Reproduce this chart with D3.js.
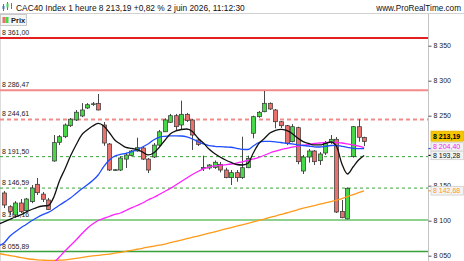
<!DOCTYPE html>
<html>
<head>
<meta charset="utf-8">
<script src="https://cdnjs.cloudflare.com/ajax/libs/d3/7.8.5/d3.min.js"></script>
<style>
  body { margin: 0; background: #fff; }
  svg { display: block; }
</style>
</head>
<body>
<div id="chart"></div>
<script>
// --- data ----------------------------------------------------------------
const instrument = 'CAC40 Index';
const period = '1 heure';
const changeText = '+0,82 %';
const stamp = '2 juin 2026, 11:12:30';
const brand = 'www.ProRealTime.com';
const legendName = 'Prix';

const lastPrice = 8213.19;

// hourly candles, oldest first
const candleOpen = [8139.6, 8120, 8108.2, 8125.3, 8114.3, 8127.2, 8152, 8138, 8129.6, 8185.3,
  8212, 8220, 8235.7, 8243.9, 8249.6, 8261, 8266, 8267.7, 8236.7, 8209.6,
  8172, 8172.4, 8188, 8193, 8199.6, 8203.9, 8188, 8191, 8208, 8227,
  8240.6, 8250, 8236.7, 8252, 8243.9, 8215.3, 8174.5, 8175.3, 8176, 8180.6,
  8172.4, 8161.5, 8168.6, 8161.5, 8175.7, 8224.9, 8248.6, 8255.7, 8267.7, 8258.2,
  8241.4, 8235.7, 8212.9, 8232.9, 8171, 8191, 8199.6, 8185.7, 8196.7, 8212,
  8216.3, 8113, 8102.6, 8191.5, 8234.3, 8219];
const candleHigh = [8142.4, 8122, 8128, 8131, 8132.5, 8151, 8161, 8141, 8132.5, 8222.4,
  8222.4, 8239, 8246.7, 8258, 8268, 8268, 8269.6, 8281, 8241, 8211,
  8173.5, 8191.5, 8197, 8201, 8218.6, 8206.7, 8189.6, 8211, 8229.6, 8246.3,
  8252.5, 8252.5, 8271.5, 8254, 8245, 8218, 8193, 8181, 8186, 8183.8,
  8175.7, 8172.4, 8172.4, 8220, 8192.9, 8250, 8256.7, 8285.3, 8269, 8259.6,
  8242.4, 8236.7, 8238, 8234.3, 8193.9, 8202.4, 8201, 8198, 8213.9, 8222.4,
  8219.6, 8129.6, 8147.5, 8235.3, 8244.9, 8220];
const candleLow = [8118, 8108, 8104, 8111, 8112.4, 8125, 8136.7, 8126.7, 8115.3, 8184.3,
  8208, 8218, 8233.9, 8242.4, 8248, 8259.6, 8264, 8257.5, 8207, 8171,
  8171.5, 8171, 8175.3, 8192, 8198.6, 8186.7, 8168, 8189.6, 8206.7, 8226.7,
  8239.6, 8229.6, 8229.6, 8241, 8201, 8206.7, 8171, 8173, 8174, 8169,
  8160.6, 8151, 8155.7, 8159.6, 8175, 8217.7, 8247, 8254.9, 8258.2, 8232,
  8232.4, 8208, 8212, 8180.6, 8166.7, 8183, 8179.6, 8179.6, 8193.9, 8209.6,
  8111, 8103.5, 8102, 8190, 8212.9, 8206.7];
const candleClose = [8122.4, 8113, 8125.3, 8113, 8131, 8146.7, 8140, 8130.6, 8116, 8211.5,
  8220, 8236.7, 8245, 8255, 8258.2, 8265.7, 8267, 8258.2, 8211, 8172.4,
  8172.8, 8189.6, 8193.9, 8199.6, 8204.3, 8188, 8172.4, 8208, 8227, 8244,
  8250, 8234.3, 8252, 8243, 8222.4, 8209, 8176, 8179.6, 8183.5, 8172.4,
  8161.5, 8168.6, 8161.5, 8175.7, 8189, 8248.6, 8254.9, 8267.7, 8259.6, 8241.4,
  8235.7, 8210.6, 8234.3, 8184.3, 8191, 8199.6, 8184.3, 8195.3, 8210.6, 8216.3,
  8112.4, 8104.3, 8146.3, 8234.3, 8219.2, 8213.19];

// moving averages, one value per bar starting one bar before the first candle
const maStart = -1;
const maBlack = [8095.3, 8098.2, 8101.7, 8105.3, 8108.2, 8112.4, 8116.0, 8119.2, 8121.0, 8121.7,
  8133.9, 8156.7, 8173.9, 8192.4, 8208.2, 8222.4, 8229.6, 8235.3, 8238.9, 8235.3,
  8226.0, 8215.3, 8209.6, 8204.6, 8203.2, 8201.7, 8198.2, 8193.9, 8196.7, 8204.6,
  8214.6, 8223.9, 8228.2, 8230.3, 8231.0, 8227.4, 8218.2, 8211.0, 8202.4, 8196.0,
  8191.0, 8186.7, 8183.2, 8180.3, 8179.6, 8181.7, 8196.7, 8210.3, 8217.4, 8225.3,
  8228.9, 8230.6, 8228.9, 8224.6, 8218.2, 8212.9, 8210.3, 8208.2, 8208.2, 8210.3,
  8212.4, 8206.7, 8181.0, 8166.7, 8176.7, 8186.7, 8193.28];
const maBlue = [8063.9, 8068.2, 8077.4, 8083.9, 8089.6, 8094.6, 8100.0, 8104.6, 8108.6, 8112.0,
  8116.7, 8122.0, 8127.2, 8132.4, 8138.9, 8145.3, 8151.0, 8157.4, 8165.3, 8177.4,
  8186.7, 8192.4, 8194.6, 8196.3, 8198.4, 8201.7, 8205.3, 8209.6, 8215.3, 8219.2,
  8220.6, 8221.3, 8221.3, 8221.0, 8219.6, 8216.7, 8212.9, 8209.6, 8207.4, 8206.3,
  8205.7, 8205.3, 8204.9, 8203.4, 8202.0, 8201.7, 8206.7, 8211.7, 8213.2, 8213.2,
  8212.7, 8211.7, 8210.6, 8209.9, 8208.4, 8207.4, 8206.7, 8205.6, 8205.3, 8206.3,
  8207.4, 8207.7, 8206.3, 8204.9, 8203.4, 8203.1, 8203.1];
const maMagenta = [null, null, null, null, null, null, null, null, null, 8029.6,
  8039.6, 8048.2, 8056.7, 8064.6, 8072.4, 8081.0, 8088.9, 8095.3, 8100.3, 8103.2,
  8106.0, 8108.9, 8111.0, 8114.6, 8118.2, 8121.7, 8125.3, 8129.6, 8133.2, 8137.4,
  8141.7, 8146.0, 8151.0, 8156.0, 8161.0, 8166.0, 8170.3, 8173.9, 8176.7, 8178.2,
  8178.9, 8179.9, 8181.0, 8182.4, 8184.2, 8186.0, 8188.2, 8190.6, 8193.5, 8196.7,
  8199.3, 8201.7, 8203.4, 8205.0, 8206.4, 8207.9, 8208.9, 8210.3, 8211.0, 8211.7,
  8212.0, 8212.0, 8211.0, 8209.6, 8208.2, 8206.7, 8204.40];
const maOrange = [8053.2, 8051.7, 8050.3, 8048.9, 8047.4, 8046.0, 8044.9, 8044.1, 8043.6, 8043.3,
  8043.3, 8043.6, 8044.1, 8045.0, 8046.1, 8047.3, 8048.6, 8049.6, 8050.6, 8051.6,
  8052.4, 8053.6, 8054.9, 8056.3, 8057.7, 8059.2, 8060.6, 8062.2, 8063.6, 8065.0,
  8066.7, 8068.6, 8070.4, 8072.4, 8074.3, 8076.3, 8078.1, 8080.1, 8082.1, 8084.1,
  8086.1, 8088.2, 8090.2, 8092.2, 8094.2, 8096.2, 8098.2, 8100.3, 8102.4, 8104.6,
  8106.7, 8108.9, 8111.0, 8113.3, 8115.6, 8117.9, 8119.9, 8121.7, 8123.6, 8125.4,
  8127.3, 8129.3, 8131.6, 8134.4, 8137.3, 8140.0, 8142.68];

// horizontal levels drawn on the chart
const levelValues = [8361.00, 8286.47, 8244.61, 8191.50, 8146.59, 8101.16, 8055.89];

// price axis ticks
const yTicks = [8050, 8100, 8150, 8250, 8300, 8350];

// --- styles ----------------------------------------------------------------
const levelStyles = [
  { color: '#e3201f', width: 2, dash: null },
  { color: '#f38a8a', width: 2, dash: null },
  { color: '#f38a8a', width: 2, dash: '4,3' },
  { color: '#3aa53a', width: 1, dash: '3,3' },
  { color: '#3aa53a', width: 1, dash: '3,3' },
  { color: '#8ed18e', width: 2, dash: null },
  { color: '#3aa03a', width: 1.5, dash: null }
];
const upColor = '#47d747';
const downColor = '#e8716b';
const wickColor = '#333';

const W = 464, H = 261;
const plotRight = 428, plotTop = 14;

const fr = d3.formatLocale({ decimal: ',', thousands: '\u00a0', grouping: [3], currency: ['', ''] });
const fmt2 = fr.format(',.2f');
const fmt0 = fr.format(',.0f');

const svg = d3.select('#chart')
  .append('svg')
  .attr('width', W)
  .attr('height', H)
  .style('font-family', '"Liberation Sans", Arial, sans-serif');

// scales
const x = d3.scaleLinear().domain([0, candleOpen.length - 1]).range([4, 364.1]);
const y = d3.scaleLinear().domain([8050, 8350]).range([255.7, 45.7]);

// header
svg.append('line')
  .attr('x1', 0).attr('x2', W).attr('y1', 13.5).attr('y2', 13.5)
  .attr('stroke', '#d2d2d2');

const icon = svg.append('g');
icon.append('line').attr('x1', 3.5).attr('x2', 3.5).attr('y1', 4).attr('y2', 11).attr('stroke', '#3a7bd5');
icon.append('rect').attr('x', 2.5).attr('y', 6).attr('width', 2).attr('height', 3).attr('fill', '#3a7bd5');
icon.append('line').attr('x1', 7.5).attr('x2', 7.5).attr('y1', 2).attr('y2', 10).attr('stroke', '#2f9e44');
icon.append('rect').attr('x', 6.5).attr('y', 3.5).attr('width', 2).attr('height', 4).attr('fill', '#47d747');
icon.append('line').attr('x1', 11.5).attr('x2', 11.5).attr('y1', 3).attr('y2', 9).attr('stroke', '#3a7bd5');

svg.append('text')
  .attr('x', 16).attr('y', 10.5)
  .attr('font-size', 8.4)
  .attr('fill', '#111')
  .text(`${instrument} ${period} ${fmt2(lastPrice)} ${changeText} ${stamp}`);

svg.append('text')
  .attr('x', 461).attr('y', 10.5)
  .attr('text-anchor', 'end')
  .attr('font-size', 8.2)
  .attr('fill', '#111')
  .text(brand);

// plot frame
svg.append('line')
  .attr('x1', 0.5).attr('x2', 0.5).attr('y1', plotTop).attr('y2', H)
  .attr('stroke', '#dcdcdc');

svg.append('defs').append('clipPath').attr('id', 'plot-clip')
  .append('rect')
  .attr('x', 0).attr('y', plotTop)
  .attr('width', plotRight).attr('height', H - plotTop);

const plot = svg.append('g').attr('clip-path', 'url(#plot-clip)');

// levels and their labels (labels sit under the candles)
const levels = levelValues.map((v, i) => ({ v, s: levelStyles[i] }));
plot.selectAll('.level')
  .data(levels)
  .join('line')
  .attr('class', 'level')
  .attr('x1', 0).attr('x2', plotRight)
  .attr('y1', d => y(d.v)).attr('y2', d => y(d.v))
  .attr('stroke', d => d.s.color)
  .attr('stroke-width', d => d.s.width)
  .attr('stroke-dasharray', d => d.s.dash);

plot.selectAll('.level-label')
  .data(levels)
  .join('text')
  .attr('class', 'level-label')
  .attr('x', 2)
  .attr('y', d => y(d.v) - 3)
  .attr('font-size', 7)
  .attr('fill', '#222')
  .text(d => fmt2(d.v));

// candles
const candles = candleOpen.map((o, i) => ({
  i, o, h: candleHigh[i], l: candleLow[i], c: candleClose[i]
}));
const cx = d => Math.round(x(d.i)) + 0.5;

plot.selectAll('.wick')
  .data(candles)
  .join('line')
  .attr('class', 'wick')
  .attr('x1', cx).attr('x2', cx)
  .attr('y1', d => y(d.h)).attr('y2', d => y(d.l))
  .attr('stroke', wickColor)
  .attr('stroke-width', 0.9);

plot.selectAll('.body')
  .data(candles)
  .join('rect')
  .attr('class', 'body')
  .attr('x', d => cx(d) - 2)
  .attr('y', d => y(Math.max(d.o, d.c)))
  .attr('width', 4)
  .attr('height', d => Math.max(0.8, Math.abs(y(d.o) - y(d.c))))
  .attr('fill', d => d.c >= d.o ? upColor : downColor)
  .attr('stroke', wickColor)
  .attr('stroke-width', 0.7);

// moving averages
const maLine = d3.line()
  .defined(d => d != null)
  .x((d, k) => x(k + maStart))
  .y(d => y(d))
  .curve(d3.curveMonotoneX);

const maSeries = [
  { data: maOrange, color: '#ff9a1a' },
  { data: maMagenta, color: '#ff1fff' },
  { data: maBlue, color: '#1f4dff' },
  { data: maBlack, color: '#111' }
];
plot.selectAll('.ma')
  .data(maSeries)
  .join('path')
  .attr('class', 'ma')
  .attr('d', d => maLine(d.data))
  .attr('fill', 'none')
  .attr('stroke', d => d.color)
  .attr('stroke-width', 1.3);

// price axis
svg.append('line')
  .attr('x1', plotRight + 0.5).attr('x2', plotRight + 0.5)
  .attr('y1', plotTop).attr('y2', H)
  .attr('stroke', '#c4c4c4');

const axis = svg.append('g')
  .attr('transform', `translate(${plotRight + 0.5},0)`)
  .call(d3.axisRight(y).tickValues(yTicks).tickSize(3).tickPadding(2).tickFormat(fmt0));
axis.select('.domain').remove();
axis.selectAll('.tick line').attr('stroke', '#555');
axis.selectAll('.tick text')
  .attr('font-size', 7)
  .attr('font-family', '"Liberation Sans", Arial, sans-serif')
  .attr('fill', '#222');

// end-of-series markers on the axis
const lastOf = a => a[a.length - 1];
const markers = [
  { v: lastOf(maBlue), color: '#1f4dff' },
  { v: lastOf(maBlack), color: '#111' },
  { v: lastOf(maOrange), color: '#ff9a1a' }
];
svg.selectAll('.marker')
  .data(markers)
  .join('line')
  .attr('class', 'marker')
  .attr('x1', plotRight + 0.5).attr('x2', plotRight + 3.5)
  .attr('y1', d => y(d.v)).attr('y2', d => y(d.v))
  .attr('stroke', d => d.color)
  .attr('stroke-width', 1.2);

// value boxes, pushed apart from the bottom up so they do not overlap
const boxes = [
  { v: lastPrice, h: 10, fill: '#f7c600', stroke: '#e0b000', text: '#000', bold: true },
  { v: lastOf(maMagenta), h: 8.5, fill: '#f3f3f3', stroke: '#cfcfcf', text: '#f01ff0', bold: false },
  { v: lastOf(maBlack), h: 8.5, fill: '#f3f3f3', stroke: '#cfcfcf', text: '#111', bold: false },
  { v: lastOf(maOrange), h: 8.5, fill: '#f3f3f3', stroke: '#cfcfcf', text: '#ff9a1a', bold: false }
];
boxes.forEach(b => { b.cy = y(b.v); });
const sorted = boxes.slice().sort((a, b) => b.cy - a.cy);
for (let k = 1; k < sorted.length; k++) {
  const lower = sorted[k - 1], upper = sorted[k];
  const gap = (lower.h + upper.h) / 2 + (upper.bold ? 1.5 : 0);
  if (lower.cy - upper.cy < gap) upper.cy = lower.cy - gap;
}

const boxG = svg.selectAll('.vbox')
  .data(boxes)
  .join('g')
  .attr('class', 'vbox')
  .attr('transform', d => `translate(${plotRight + 3},${d.cy})`);
boxG.append('rect')
  .attr('x', 0).attr('y', d => -d.h / 2)
  .attr('width', W - plotRight - 3.5).attr('height', d => d.h)
  .attr('fill', d => d.fill)
  .attr('stroke', d => d.stroke)
  .attr('stroke-width', 0.8);
boxG.append('text')
  .attr('x', 2).attr('y', 2.5)
  .attr('font-size', 7)
  .attr('font-weight', d => d.bold ? 'bold' : 'normal')
  .attr('fill', d => d.text)
  .text(d => fmt2(d.v));

// legend
const legend = svg.append('g');
legend.append('rect')
  .attr('x', 0.5).attr('y', 14.5).attr('width', 26).attr('height', 11)
  .attr('fill', '#f5f5f5').attr('stroke', '#c9c9c9');
legend.append('rect').attr('x', 2.5).attr('y', 17).attr('width', 3).attr('height', 6).attr('fill', downColor);
legend.append('rect').attr('x', 5.5).attr('y', 17).attr('width', 3).attr('height', 6).attr('fill', upColor);
legend.append('text')
  .attr('x', 11).attr('y', 23)
  .attr('font-size', 7.5)
  .attr('font-weight', 'bold')
  .attr('fill', '#222')
  .text(legendName);
</script>
</body>
</html>
